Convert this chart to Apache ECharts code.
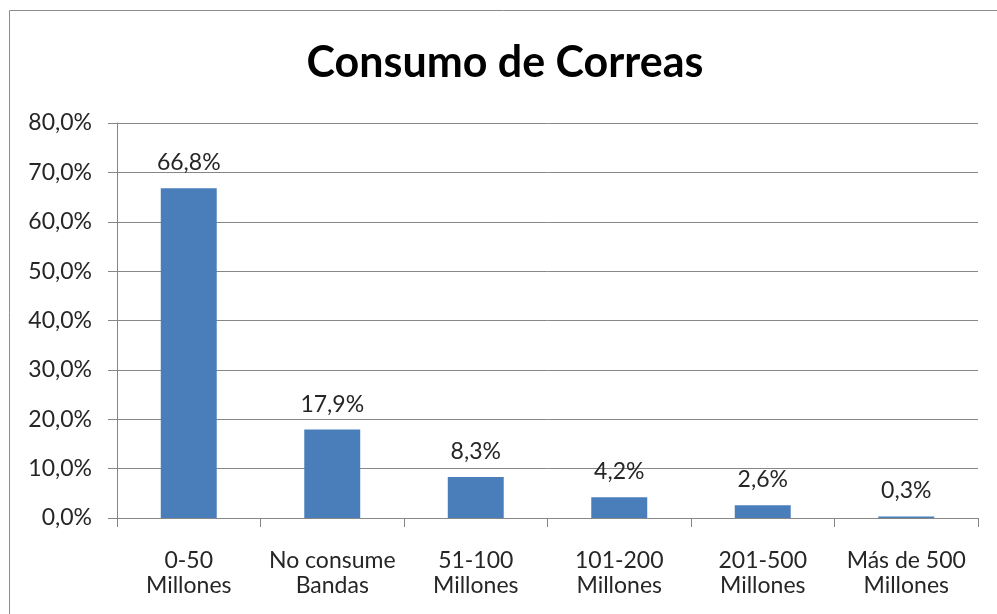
<!DOCTYPE html>
<html>
<head>
<meta charset="utf-8">
<title>Consumo de Correas</title>
<script src="https://cdn.jsdelivr.net/npm/echarts@6/dist/echarts.min.js"></script>
<style>
  html, body { margin: 0; padding: 0; background: #ffffff; }
  #chart { width: 997px; height: 614px; }
</style>
</head>
<body>
<div id="chart"></div>
<script>
// Belt consumption categories and share of respondents (%)
const categories = [
  '0-50\nMillones',
  'No consume\nBandas',
  '51-100\nMillones',
  '101-200\nMillones',
  '201-500\nMillones',
  'Más de 500\nMillones'
];
const shares = [66.8, 17.9, 8.3, 4.2, 2.6, 0.3];
const yTicks = { min: 0, max: 80, step: 10 };

const FONT = 'Lato, "Open Sans", sans-serif';
const TEXT = '#262626';
const GRID = '#878787';

// Spanish-style percent with decimal comma
const pct = v => Number(v).toFixed(1).replace('.', ',') + '%';

const chart = echarts.init(document.getElementById('chart'), null, { renderer: 'canvas' });

chart.setOption({
  animation: false,
  backgroundColor: '#ffffff',
  title: {
    text: 'Consumo de Correas',
    left: 500,
    textAlign: 'center',
    top: 37,
    textStyle: { fontFamily: FONT, fontWeight: 'bold', fontSize: 43, color: '#000000' }
  },
  graphic: [{
    type: 'rect',
    shape: { x: 9.5, y: 10.5, width: 1000, height: 700 },
    style: { fill: 'none', stroke: '#8c8c8c', lineWidth: 1 },
    silent: true
  }],
  grid: { left: 117, right: 19, top: 123, bottom: 96, containLabel: false },
  xAxis: {
    type: 'category',
    data: categories,
    axisLine: { lineStyle: { color: GRID, width: 1 } },
    axisTick: { show: true, alignWithLabel: false, length: 9, lineStyle: { color: GRID } },
    axisLabel: {
      interval: 0,
      margin: 30,
      fontFamily: FONT,
      fontSize: 23,
      lineHeight: 25,
      color: TEXT
    }
  },
  yAxis: {
    type: 'value',
    min: yTicks.min,
    max: yTicks.max,
    interval: yTicks.step,
    axisLine: { show: true, lineStyle: { color: GRID, width: 1 } },
    axisTick: { show: true, length: 9, lineStyle: { color: GRID } },
    splitLine: { show: true, lineStyle: { color: GRID, width: 1 } },
    axisLabel: {
      margin: 25,
      fontFamily: FONT,
      fontSize: 23,
      color: TEXT,
      formatter: pct
    }
  },
  series: [{
    type: 'bar',
    data: shares,
    barWidth: '39%',
    itemStyle: { color: '#4a7ebb' },
    label: {
      show: true,
      position: 'top',
      distance: 14,
      fontFamily: FONT,
      fontSize: 23,
      color: TEXT,
      formatter: p => pct(p.value)
    }
  }]
});
</script>
</body>
</html>
